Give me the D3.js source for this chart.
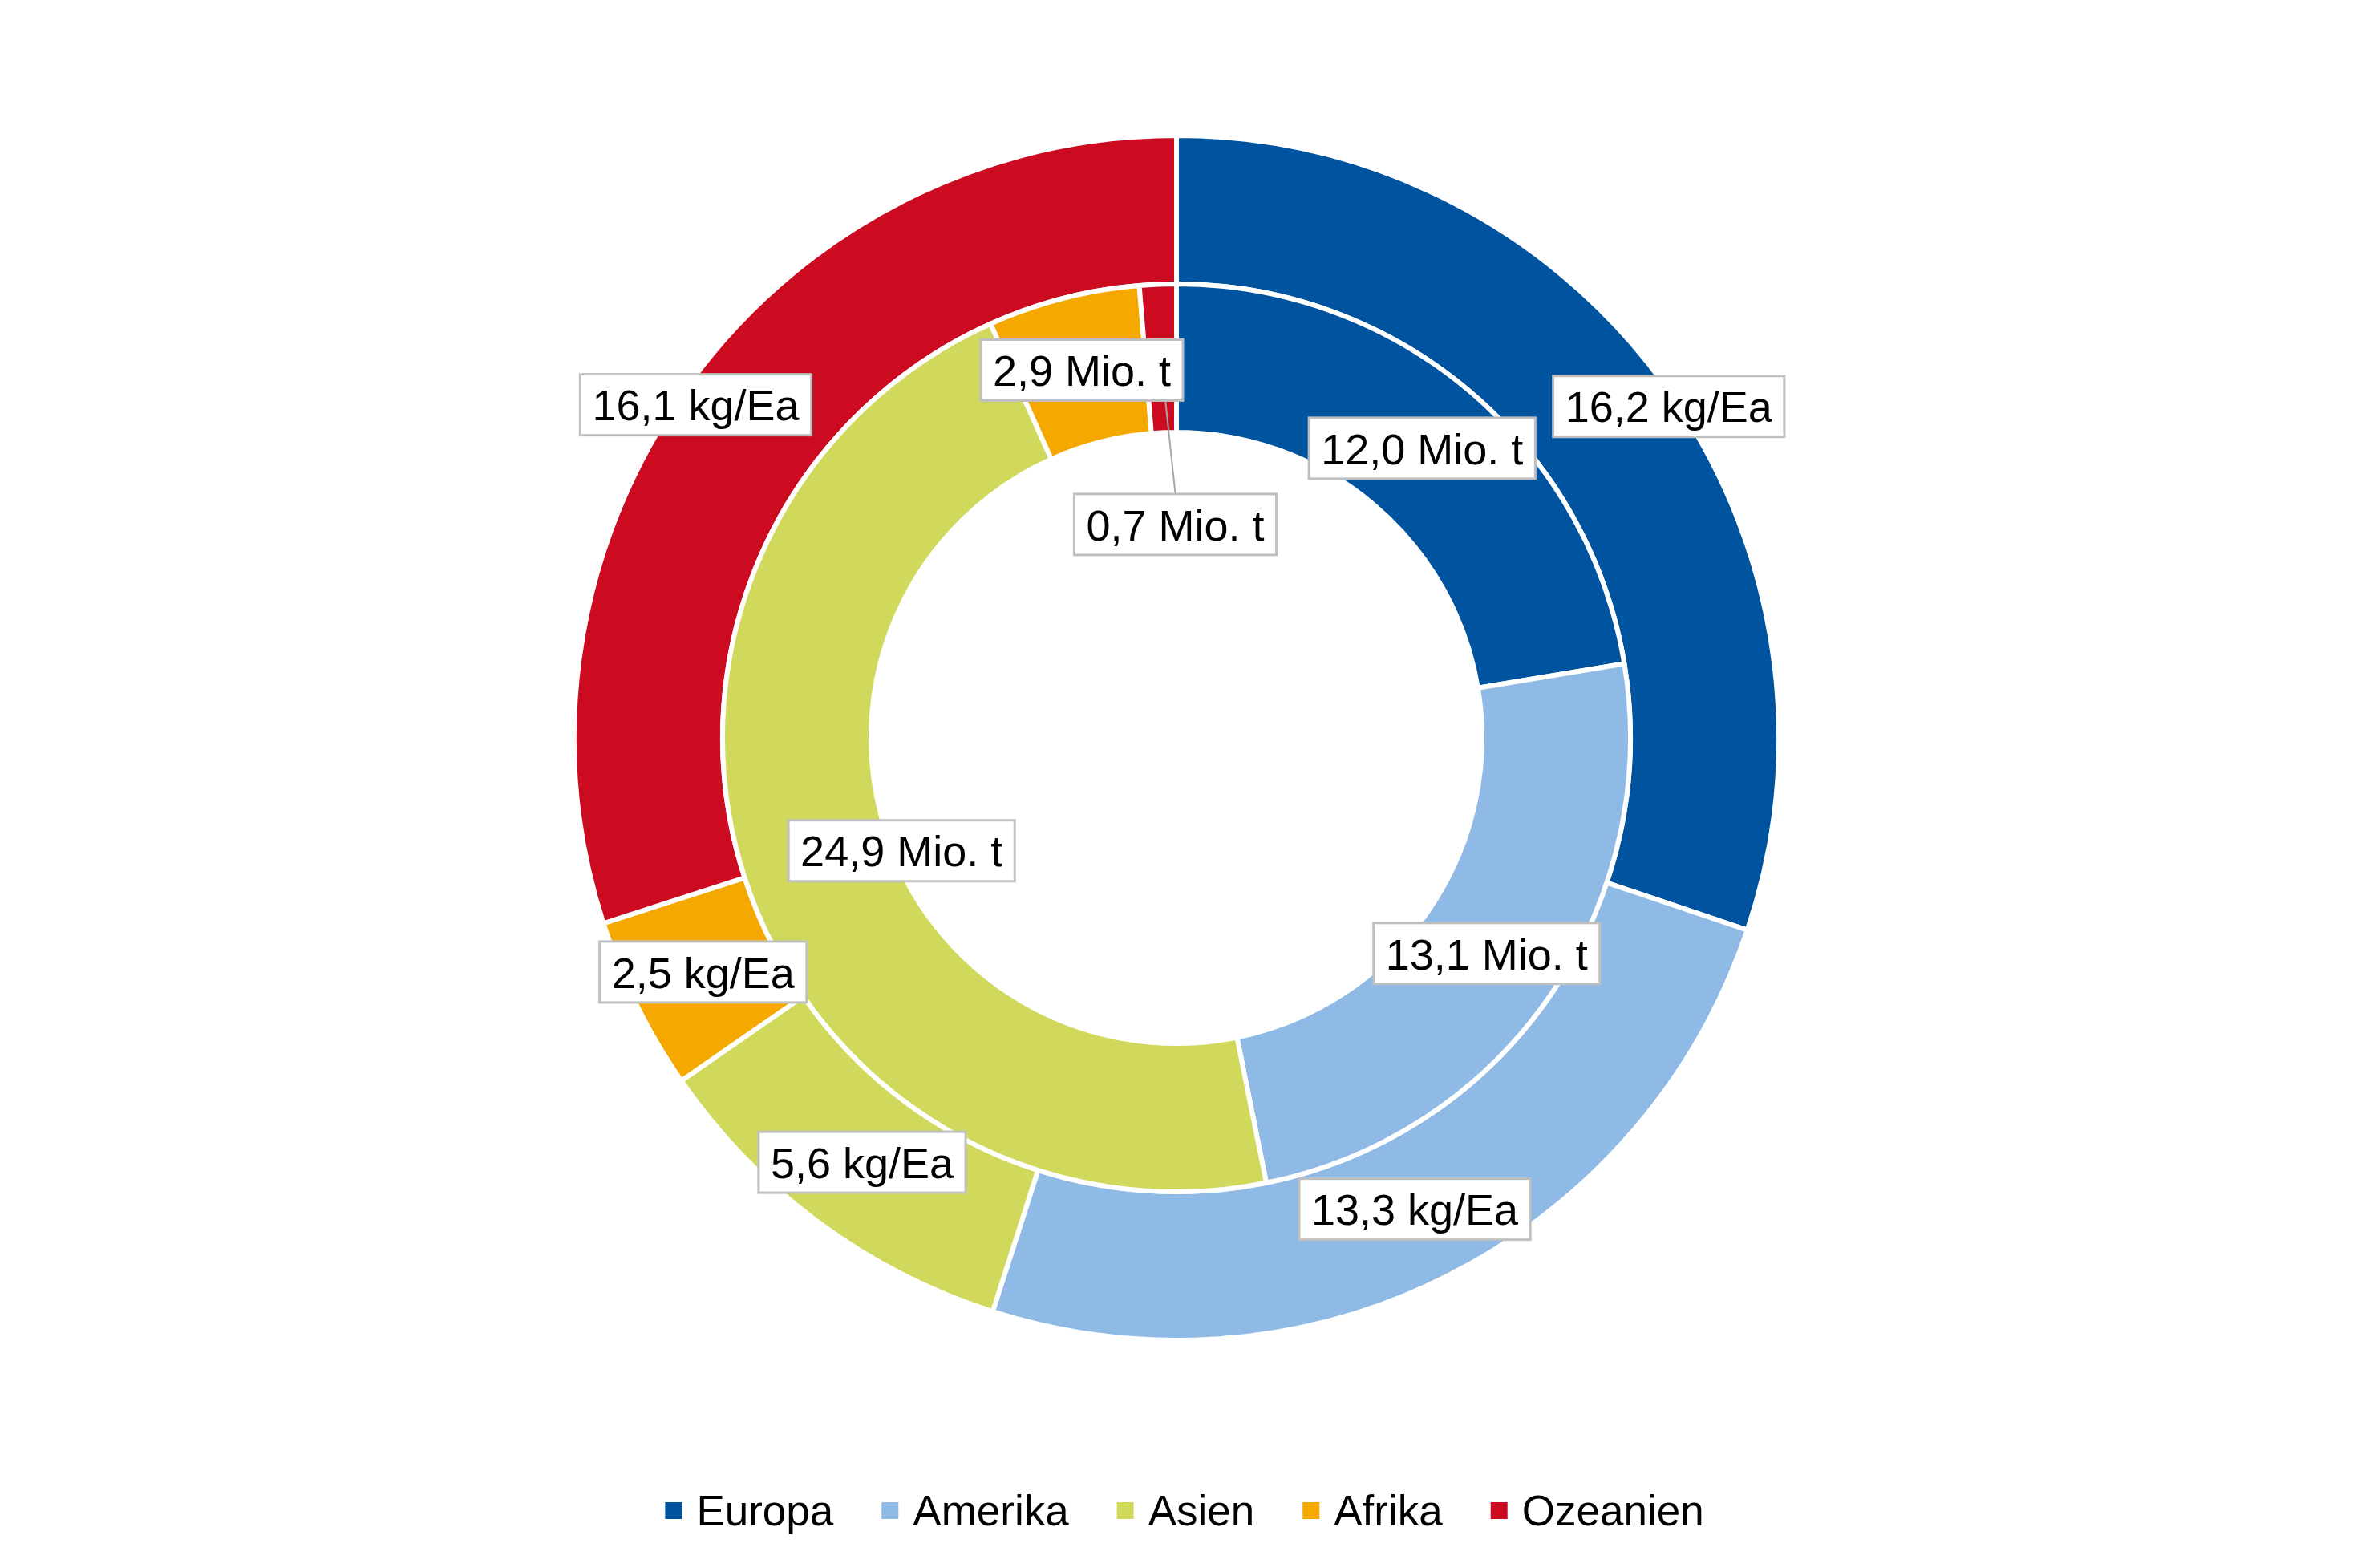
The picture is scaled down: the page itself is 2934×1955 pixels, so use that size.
<!DOCTYPE html>
<html>
<head>
<meta charset="utf-8">
<script src="https://cdn.jsdelivr.net/npm/d3@7"></script>
<style>
  html, body { margin: 0; padding: 0; background: #fff; }
  svg text { font-family: "Liberation Sans", Arial, sans-serif; }
</style>
</head>
<body>
<svg id="chart" width="2934" height="1955"></svg>
<script>
// Daten
var regionen = ["Europa", "Amerika", "Asien", "Afrika", "Ozeanien"];
var farben = ["#00539f", "#8fbae5", "#d0d95c", "#f5a800", "#cc0a20"];
var kgProEa = [16.2, 13.3, 5.6, 2.5, 16.1];   // aeusserer Ring
var mioT = [12.0, 13.1, 24.9, 2.9, 0.7];      // innerer Ring

// Label-Verschiebung gegenueber Schwerpunkt (Excel-Platzierung)
var offAussen = [[79, -29], [0, 0], [0, 0], [0, 0], [-67, -28]];
var offInnen = [[0, 0], [-3, 0], [108, -4], [0, 0], [18, 207]];

var W = 2934, H = 1955;
var cx = 1467, cy = 920;
var rAussen = 751, rMitte = 566, rLoch = 381;

var de = d3.formatLocale({decimal: ",", thousands: ".", grouping: [3], currency: ["", " €"]});
var fmt = de.format(".1f");

var svg = d3.select("#chart");
var g = svg.append("g").attr("transform", "translate(" + cx + "," + cy + ")");

var pie = d3.pie().sort(null).value(function(d){ return d; });
var arcA = d3.arc().innerRadius(rMitte).outerRadius(rAussen);
var arcI = d3.arc().innerRadius(rLoch).outerRadius(rMitte);

var color = d3.scaleOrdinal().domain(regionen).range(farben);

var aussen = pie(kgProEa);
var innen = pie(mioT);

g.selectAll("path.aussen").data(aussen).enter().append("path")
    .attr("class", "aussen")
    .attr("d", arcA)
    .attr("fill", function(d, i){ return color(regionen[i]); })
    .attr("stroke", "#fff")
    .attr("stroke-width", 6)
    .attr("stroke-linejoin", "round");

g.selectAll("path.innen").data(innen).enter().append("path")
    .attr("class", "innen")
    .attr("d", arcI)
    .attr("fill", function(d, i){ return color(regionen[i]); })
    .attr("stroke", "#fff")
    .attr("stroke-width", 6)
    .attr("stroke-linejoin", "round");

// Labels sammeln
var labels = [];
aussen.forEach(function(d, i){
    var c = arcA.centroid(d);
    labels.push({c: c, x: c[0] + offAussen[i][0], y: c[1] + offAussen[i][1], t: fmt(d.data) + " kg/Ea"});
});
innen.forEach(function(d, i){
    var c = arcI.centroid(d);
    labels.push({c: c, x: c[0] + offInnen[i][0], y: c[1] + offInnen[i][1], t: fmt(d.data) + " Mio. t",
        leader: (offInnen[i][1] > 100)});
});

var fs = 54, boxH = 76, pad = 15;

// Fuehrungslinien zuerst
labels.filter(function(l){ return l.leader; }).forEach(function(l){
    g.append("line")
        .attr("x1", l.c[0]).attr("y1", l.c[1])
        .attr("x2", l.x).attr("y2", l.y - boxH / 2)
        .attr("stroke", "#a6a6a6")
        .attr("stroke-width", 2);
});

labels.forEach(function(l){
    var lg = g.append("g").attr("transform", "translate(" + l.x + "," + l.y + ")");
    var rect = lg.append("rect");
    var txt = lg.append("text")
        .attr("text-anchor", "middle")
        .attr("y", fs * 0.365)
        .attr("font-size", fs)
        .attr("fill", "#000")
        .text(l.t);
    var w = txt.node().getComputedTextLength() + 2 * pad;
    rect.attr("x", -w / 2).attr("y", -boxH / 2)
        .attr("width", w).attr("height", boxH)
        .attr("fill", "#fff")
        .attr("stroke", "#bfbfbf")
        .attr("stroke-width", 3);
});

// Legende
var leg = svg.append("g");
var lx = 0;
regionen.forEach(function(r, i){
    var it = leg.append("g").attr("transform", "translate(" + lx + ",0)");
    it.append("rect")
        .attr("x", 0).attr("y", -29)
        .attr("width", 21).attr("height", 21)
        .attr("fill", color(r));
    var t = it.append("text")
        .attr("x", 39).attr("y", 0)
        .attr("font-size", 53)
        .attr("fill", "#000")
        .text(r);
    lx += 39 + t.node().getComputedTextLength() + 60;
});
var legW = lx - 60;
leg.attr("transform", "translate(" + (1477 - legW / 2) + ",1902)");
</script>
</body>
</html>
